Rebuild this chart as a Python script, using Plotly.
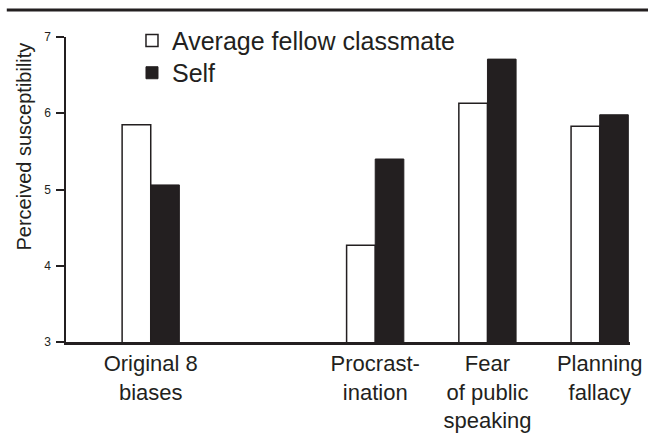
import plotly.graph_objects as go

categories = ["Original 8<br>biases", "Procrast-<br>ination", "Fear<br>of public<br>speaking", "Planning<br>fallacy"]
category_pos = [0, 2, 3, 4]
classmate = [5.85, 4.27, 6.13, 5.83]
self_vals = [5.06, 5.40, 6.71, 5.98]
y_ticks = [3, 4, 5, 6, 7]

INK = "#231f20"

fig = go.Figure()
fig.add_trace(go.Bar(
    x=category_pos, y=classmate, name="Average fellow classmate",
    marker=dict(color="white", line=dict(color=INK, width=1.5)),
    legend="legend",
))
fig.add_trace(go.Bar(
    x=category_pos, y=self_vals, name="Self",
    marker=dict(color=INK, line=dict(color=INK, width=1)),
    legend="legend2",
))

legend_common = dict(
    xanchor="left", yanchor="middle", font=dict(size=25, color=INK),
    bgcolor="rgba(0,0,0,0)", itemwidth=30,
)

fig.update_layout(
    width=648, height=435,
    margin=dict(l=66, r=18, t=37, b=93, autoexpand=False),
    paper_bgcolor="white", plot_bgcolor="white",
    barmode="group", bargap=0.49, bargroupgap=0,
    font=dict(family="Liberation Sans, Arial, sans-serif", color=INK),
    xaxis=dict(
        range=[-0.755, 4.27], tickvals=category_pos, ticktext=categories,
        showgrid=False, zeroline=False, showline=True, linecolor=INK, linewidth=2.5,
        ticks="", tickfont=dict(size=22), automargin=False,
    ),
    yaxis=dict(
        range=[3, 7], tickvals=y_ticks, showgrid=False, zeroline=False,
        showline=True, linecolor=INK, linewidth=1.5,
        ticks="outside", ticklen=8, tickwidth=1.5, tickcolor=INK,
        tickfont=dict(size=12), ticklabelstandoff=3, automargin=False,
    ),
    legend=dict(x=0.117, y=0.988, **legend_common),
    legend2=dict(x=0.117, y=0.882, **legend_common),
    showlegend=True,
    annotations=[dict(
        text="Perceived susceptibility", textangle=-90, showarrow=False,
        xref="paper", yref="paper", x=-0.075, y=0.64, xanchor="center", yanchor="middle",
        font=dict(size=20),
    )],
    shapes=[dict(
        type="line", xref="paper", yref="paper",
        x0=-0.105, x1=1.04, y0=1.0885, y1=1.0885,
        line=dict(color=INK, width=3),
    )],
)

fig.write_html(
    "out.html",
    config={"displayModeBar": False},
    post_script="document.body.style.margin='0';document.body.style.overflow='hidden';",
)
